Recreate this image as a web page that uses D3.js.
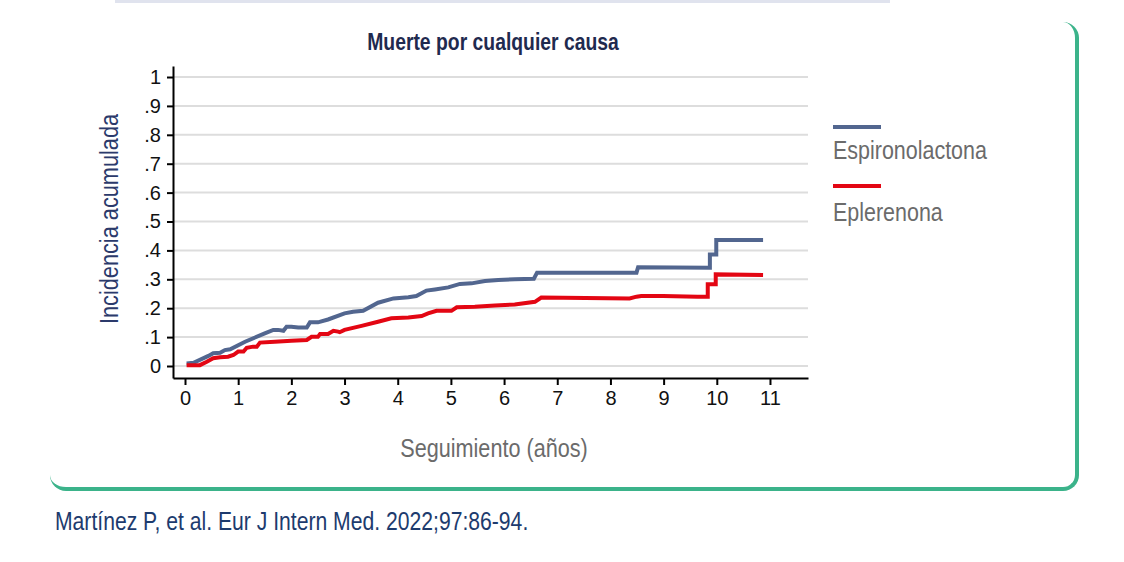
<!DOCTYPE html>
<html>
<head>
<meta charset="utf-8">
<script src="https://cdn.jsdelivr.net/npm/d3@7"></script>
<style>
  html, body { margin:0; padding:0; background:#fff; }
  #wrap { position:relative; width:1124px; height:562px; overflow:hidden; }
  #frame { position:absolute; left:50px; top:22px; width:1025px; height:465px;
           border-right:4px solid #3bb38a; border-bottom:4px solid #3bb38a;
           border-radius:16px; }
  #topbar { position:absolute; left:115px; top:0; width:775px; height:3px; background:#e0e3ee; }
  svg { position:absolute; left:0; top:0; }
  .narrow { font-family:"Liberation Sans Narrow","Arial Narrow","Liberation Sans",Arial,sans-serif; }
</style>
</head>
<body>
<div id="wrap">
  <div id="topbar"></div>
  <div id="frame"></div>
  <svg id="chart" width="1124" height="562"></svg>
</div>
<script>
// ---- data ----
const xTicks = [0,1,2,3,4,5,6,7,8,9,10,11];
const yTicks = [0,0.1,0.2,0.3,0.4,0.5,0.6,0.7,0.8,0.9,1];
const yTickLabels = ["0",".1",".2",".3",".4",".5",".6",".7",".8",".9","1"];
const seriesNames = ["Espironolactona","Eplerenona"];
const seriesColors = ["#52668f","#e30613"];

const timeEsp = [0.03,0.16,0.44,0.53,0.66,0.75,0.85,1.13,1.5,1.66,1.75,1.85,1.91,2.0,2.13,2.29,2.35,2.5,2.69,3.0,3.16,3.35,3.63,3.92,4.2,4.35,4.54,4.7,4.95,5.17,5.39,5.64,5.89,6.2,6.56,6.62,8.49,8.52,9.87,9.87,9.99,9.99,10.87];
const incEsp  = [0.009,0.011,0.035,0.044,0.046,0.055,0.058,0.084,0.113,0.125,0.125,0.122,0.136,0.136,0.133,0.133,0.151,0.151,0.161,0.182,0.188,0.191,0.219,0.234,0.238,0.242,0.261,0.265,0.272,0.284,0.286,0.294,0.298,0.300,0.302,0.323,0.323,0.342,0.340,0.386,0.386,0.436,0.436];

const timeEpl = [0.03,0.28,0.41,0.53,0.66,0.81,0.91,1.0,1.1,1.16,1.28,1.35,1.41,1.69,2.0,2.29,2.38,2.5,2.54,2.69,2.79,2.88,2.91,3.0,3.32,3.63,3.88,4.2,4.45,4.57,4.73,5.01,5.11,5.45,5.83,6.2,6.58,6.7,8.36,8.49,8.58,8.99,9.64,9.83,9.83,9.98,9.98,10.87];
const incEpl  = [0.003,0.003,0.015,0.027,0.030,0.032,0.038,0.050,0.050,0.063,0.067,0.067,0.081,0.084,0.087,0.090,0.101,0.101,0.111,0.111,0.122,0.119,0.117,0.125,0.139,0.153,0.165,0.168,0.173,0.182,0.191,0.191,0.203,0.205,0.209,0.213,0.222,0.237,0.234,0.240,0.242,0.242,0.240,0.240,0.283,0.283,0.317,0.315];

// ---- chart ----
const svg = d3.select("#chart");
const x = d3.scaleLinear().domain([-0.2257, 11.715]).range([173, 808]);
const y = d3.scaleLinear().domain([-0.0415, 1.0381]).range([378, 66]);
const SX = 0.82; // horizontal condensing to mimic a narrow typeface

// gridlines
svg.append("g").selectAll("line").data(yTicks).join("line")
  .attr("x1", 173).attr("x2", 808)
  .attr("y1", d => y(d)).attr("y2", d => y(d))
  .attr("stroke", "#dddddd").attr("stroke-width", 2);

// y axis
const yAxis = d3.axisLeft(y).tickValues(yTicks).tickSize(6).tickSizeOuter(0)
  .tickFormat((d,i) => yTickLabels[i]).tickPadding(6);
const gy = svg.append("g").attr("transform", "translate(173,0)").call(yAxis);
gy.select(".domain").attr("stroke", "#000").attr("stroke-width", 2);
gy.selectAll(".tick line").attr("stroke", "#000").attr("stroke-width", 2);
gy.selectAll(".tick text").attr("font-size", 20).attr("fill", "#111").attr("font-family","Liberation Sans, Arial, sans-serif");

// x axis
const xAxis = d3.axisBottom(x).tickValues(xTicks).tickSize(7).tickSizeOuter(0)
  .tickFormat(d3.format("d")).tickPadding(6);
const gx = svg.append("g").attr("transform", "translate(0,378)").call(xAxis);
gx.select(".domain").attr("stroke", "#000").attr("stroke-width", 2);
gx.selectAll(".tick line").attr("stroke", "#000").attr("stroke-width", 2);
gx.selectAll(".tick text").attr("font-size", 20).attr("fill", "#111").attr("font-family","Liberation Sans, Arial, sans-serif");

// lines
const line = d3.line().x(d => x(d[0])).y(d => y(d[1]));
const espData = timeEsp.map((t,i) => [t, incEsp[i]]);
const eplData = timeEpl.map((t,i) => [t, incEpl[i]]);
[espData, eplData].forEach((data, i) => {
  svg.append("path").datum(data)
    .attr("d", line).attr("fill", "none")
    .attr("stroke", seriesColors[i]).attr("stroke-width", 4)
    .attr("stroke-linejoin", "miter");
});

function narrowText(tx, ty, size, fill, txt, opts = {}) {
  const t = svg.append("text").attr("class","narrow")
    .attr("transform", `translate(${tx},${ty})${opts.rotate ? " rotate(-90)" : ""} scale(${SX},1)`)
    .attr("font-size", size).attr("fill", fill)
    .attr("text-anchor", opts.anchor || "start").text(txt);
  if (opts.bold) t.attr("font-weight", "bold");
  return t;
}

// title
narrowText(493, 50, 23.6, "#1f2a4f", "Muerte por cualquier causa", {anchor:"middle", bold:true});

// axis titles
narrowText(118, 219, 26.5, "#2b3a6b", "Incidencia acumulada", {anchor:"middle", rotate:true});
narrowText(494, 457, 26.4, "#6b6b6b", "Seguimiento (años)", {anchor:"middle"});

// legend
const legY = [127, 186];
const legTextY = [159, 221];
seriesNames.forEach((n,i) => {
  svg.append("line").attr("x1", 833).attr("x2", 881)
    .attr("y1", legY[i]).attr("y2", legY[i])
    .attr("stroke", seriesColors[i]).attr("stroke-width", 4);
  narrowText(833, legTextY[i], 26.2, "#6b6b6b", n);
});

// citation
narrowText(55, 530, 25.8, "#1d3b6e", "Martínez P, et al. Eur J Intern Med. 2022;97:86-94.");
</script>
</body>
</html>
